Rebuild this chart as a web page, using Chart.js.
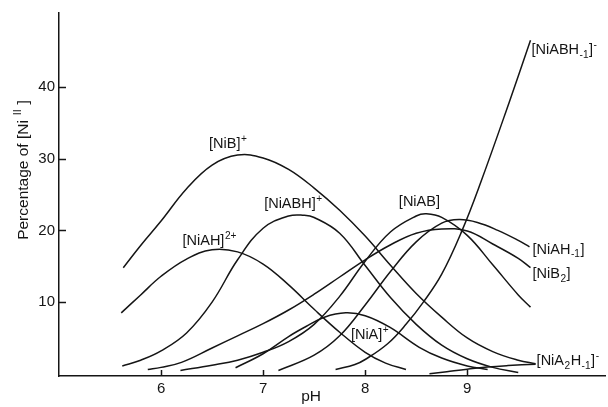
<!DOCTYPE html>
<html><head><meta charset="utf-8">
<script src="https://cdn.jsdelivr.net/npm/chart.js@4.4.1/dist/chart.umd.min.js"></script>
<style>html,body{margin:0;padding:0;background:#fff;}#wrap{width:608px;height:407px;}</style>
</head><body><div id="wrap"><canvas id="c" width="608" height="407"></canvas></div>
<script>
// ---- data (pH, percentage of Ni(II)) ----
const xTickValues = [6, 7, 8, 9];
const yTickValues = [10, 20, 30, 40];

const pH_NiB = [5.63,5.8,6.0,6.25,6.5,6.75,7.0,7.25,7.5,7.75,8.0,8.25,8.5,8.75,9.0,9.25,9.5,9.67];
const pct_NiB = [14.8,17.9,21.3,25.8,29.1,30.5,30.1,28.5,25.9,22.8,19.2,15.1,11.2,7.9,5.0,3.1,1.9,1.4];

const pH_NiAH = [5.61,5.8,6.0,6.25,6.5,6.75,7.0,7.25,7.5,7.75,8.0,8.2,8.4];
const pct_NiAH = [8.5,11.0,13.6,16.0,17.3,17.0,15.3,12.4,9.0,5.8,3.0,1.5,0.6];

const pH_NiABH = [5.62,5.8,6.0,6.25,6.5,6.75,7.0,7.25,7.4,7.5,7.75,8.0,8.25,8.5,8.75,9.0,9.25,9.5];
const pct_NiABH = [1.1,1.9,3.2,5.7,10.0,15.9,20.3,22.0,22.1,21.8,19.6,15.1,10.6,6.9,4.0,2.1,0.9,0.2];

const pH_NiB2 = [5.87,6.0,6.2,6.5,6.75,7.0,7.25,7.5,7.75,8.0,8.25,8.5,8.75,9.0,9.25,9.5,9.62];
const pct_NiB2 = [0.6,0.9,1.6,3.6,5.3,7.0,8.9,11.1,13.5,15.9,18.0,19.6,20.2,19.9,18.1,16.1,14.8];

const pH_NiAB = [6.19,6.5,6.75,7.0,7.25,7.5,7.75,8.0,8.25,8.5,8.6,8.75,9.0,9.25,9.5,9.62];
const pct_NiAB = [0.47,1.2,1.9,3.0,4.5,6.9,10.8,15.7,19.8,22.0,22.3,21.8,19.3,15.2,11.0,9.3];

const pH_NiAHm1 = [7.15,7.5,7.75,8.0,8.25,8.5,8.75,8.92,9.1,9.3,9.5,9.61];
const pct_NiAHm1 = [0.47,2.6,5.3,9.6,14.3,18.4,21.0,21.5,21.1,20.0,18.6,17.7];

const pH_NiA = [6.73,7.0,7.25,7.42,7.6,7.81,8.0,8.24,8.53,8.75,9.0,9.2];
const pct_NiA = [0.85,2.8,5.2,6.6,7.9,8.5,8.1,6.5,3.7,2.2,1.1,0.6];

const pH_NiABHm1 = [7.71,7.9,8.0,8.22,8.4,8.57,8.75,8.95,9.13,9.41,9.62];
const pct_NiABHm1 = [0.6,1.3,2.0,4.2,6.9,10.0,13.9,20.0,26.6,37.8,46.5];

const pH_NiA2Hm1 = [8.63,8.8,9.0,9.2,9.4,9.67];
const pct_NiA2Hm1 = [0.0,0.3,0.65,0.95,1.15,1.35];

const seriesNames = ['[NiB]+','[NiAH]2+','[NiABH]+','[NiB2]','[NiAB]','[NiAH-1]','[NiA]+','[NiABH-1]-','[NiA2H-1]-'];
const seriesX = [pH_NiB,pH_NiAH,pH_NiABH,pH_NiB2,pH_NiAB,pH_NiAHm1,pH_NiA,pH_NiABHm1,pH_NiA2Hm1];
const seriesY = [pct_NiB,pct_NiAH,pct_NiABH,pct_NiB2,pct_NiAB,pct_NiAHm1,pct_NiA,pct_NiABHm1,pct_NiA2Hm1];

// curve labels: text (^{} superscript, _{} subscript) and anchor in data units (left edge, vertical centre)
const labelTexts = ['[NiB]^{+}','[NiABH]^{+}','[NiAH]^{2+}','[NiAB]','[NiA]^{+}','[NiAH_{-1}]','[NiB_{2}]','[NiABH_{-1}]^{-}','[NiA_{2}H_{-1}]^{-}'];
const labelPH = [6.47,7.01,6.21,8.33,7.86,9.64,9.64,9.63,9.68];
const labelPct = [32.2,23.9,18.7,24.1,5.6,17.5,14.1,45.3,1.9];

// ---- chart ----
const INK = '#151515';
const FONT = '"Liberation Sans", Arial, sans-serif';

function parseRich(s){
  const out=[]; const re=/(\^\{[^}]*\}|_\{[^}]*\}|[^\^_]+)/g; let m;
  while((m=re.exec(s))){ const t=m[0];
    if(t[0]==='^') out.push([t.slice(2,-1),'^']);
    else if(t[0]==='_') out.push([t.slice(2,-1),'_']);
    else out.push([t,'']); }
  return out;
}
function richWidth(ctx, parts, size){
  let w=0; for(const [t,m] of parts){ ctx.font=(m?size*0.7:size)+'px '+FONT; w+=ctx.measureText(t).width + (m?1:0);} return w;
}
function drawRich(ctx, parts, x, base, size){
  let cx=x;
  for(const [t,m] of parts){
    const fs = m?size*0.7:size;
    ctx.font=fs+'px '+FONT;
    let dy=0; if(m==='^') dy=-size*0.42; if(m==='_') dy=size*0.25;
    if(m) cx+=0.5;
    ctx.fillText(t,cx,base+dy);
    cx+=ctx.measureText(t).width + (m?0.5:0);
  }
}

const decor = {
  id:'decor',
  afterDatasetsDraw(chart){
    const ctx=chart.ctx, xs=chart.scales.x, ys=chart.scales.y, a=chart.chartArea;
    ctx.save();
    ctx.strokeStyle=INK; ctx.lineWidth=1.5;
    // inward tick marks
    for(const v of xTickValues){ const px=Math.round(xs.getPixelForValue(v))+0.5; ctx.beginPath(); ctx.moveTo(px,a.bottom); ctx.lineTo(px,a.bottom-6); ctx.stroke(); }
    for(const v of yTickValues){ const py=Math.round(ys.getPixelForValue(v))+0.5; ctx.beginPath(); ctx.moveTo(a.left-1,py); ctx.lineTo(a.left+7,py); ctx.stroke(); }
    // curve labels
    ctx.fillStyle=INK; ctx.textBaseline='alphabetic'; ctx.textAlign='left';
    const size=14.5;
    labelTexts.forEach((t,i)=>{
      const px=xs.getPixelForValue(labelPH[i]); const py=ys.getPixelForValue(labelPct[i]);
      drawRich(ctx, parseRich(t), px, py+size*0.36, size);
    });
    // x title
    ctx.font='15.5px '+FONT; ctx.textAlign='center';
    ctx.fillText('pH', xs.getPixelForValue(7.47), 401);
    // y title (rotated)
    ctx.textAlign='left';
    const parts=[['Percentage of [Ni ',''],['II','^'],[' ]','']];
    const w=richWidth(ctx,parts,15.5);
    ctx.translate(22,170); ctx.rotate(-Math.PI/2);
    drawRich(ctx, parts, -w/2, 5.5, 15.5);
    ctx.restore();
  }
};

const datasets = seriesNames.map((n,i)=>({
  label:n,
  data: seriesX[i].map((x,j)=>({x:x, y:seriesY[i][j]})),
  showLine:true, borderColor:INK, borderWidth:1.5, pointRadius:0, fill:false,
  tension:0.4
}));

new Chart(document.getElementById('c'),{
  type:'scatter',
  data:{datasets},
  options:{
    responsive:false, animation:false, devicePixelRatio:1,
    layout:{padding:{top:12,right:3,left:0,bottom:0}},
    plugins:{legend:{display:false}, tooltip:{enabled:false}},
    scales:{
      x:{type:'linear', min:5.0, max:10.35,
        afterBuildTicks:s=>{s.ticks=xTickValues.map(v=>({value:v}));},
        afterFit:s=>{s.height=31;},
        grid:{display:false, drawTicks:false},
        border:{display:true, color:INK, width:1.5},
        ticks:{color:INK, font:{family:'Liberation Sans', size:15}, padding:4, maxRotation:0, autoSkip:false}},
      y:{type:'linear', min:-0.3, max:50.3,
        afterBuildTicks:s=>{s.ticks=yTickValues.map(v=>({value:v}));},
        afterFit:s=>{s.width=59;},
        grid:{display:false, drawTicks:false},
        border:{display:true, color:INK, width:1.5},
        ticks:{color:INK, font:{family:'Liberation Sans', size:15}, padding:4, autoSkip:false}}
    }
  },
  plugins:[decor]
});
</script></body></html>
